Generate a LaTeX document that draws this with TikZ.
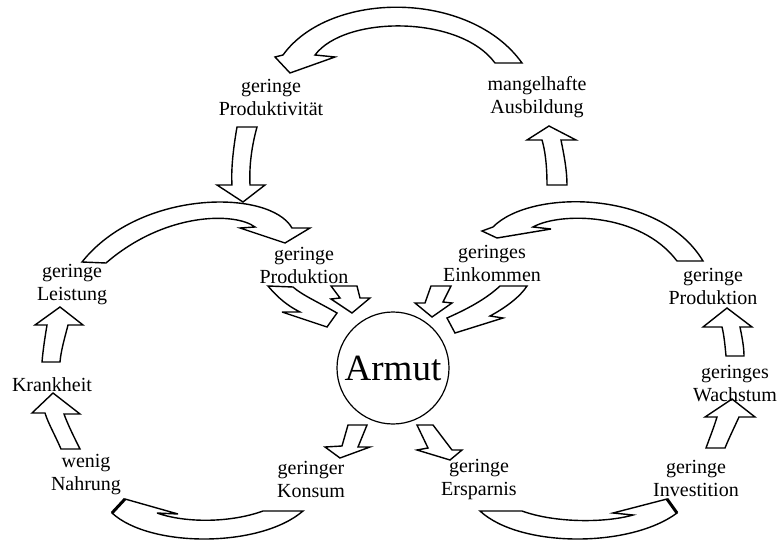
\documentclass[tikz,border=0pt]{standalone}
\usepackage{fontspec}
\setmainfont{Liberation Serif}
\tikzset{
  blk/.style={draw=black, fill=white, line width=1.4pt, line join=miter, miter limit=6},
  thk/.style={draw=black, line width=3pt, line cap=butt},
  lbl/.style={align=center, inner sep=0pt, font=\fontsize{20}{23}\selectfont},
}
\begin{document}
\begin{tikzpicture}[x=1pt,y=-1pt]
\path[use as bounding box, fill=white] (0,0) rectangle (779,540);

% central circle
\node[circle, draw, line width=1.2pt, minimum size=112pt, inner sep=0pt,
      font=\fontsize{37}{42}\selectfont] (armut) at (393,368) {Armut};

% A1 top arc: Ausbildung -> Produktivitaet
\draw[blk] (522,63) .. controls (470,-10) and (330,-10) .. (283,55) -- (275,57) -- (290,73) -- (335,57) -- (315,55)
  .. controls (345,15) and (460,15) .. (495,63) -- cycle;
% A2 down: Produktivitaet -> Produktion
\draw[blk] (237,127) .. controls (233,150) and (231,170) .. (232,185) -- (217,185) -- (243,202) -- (265,185) -- (250,185)
  .. controls (249,165) and (252,145) .. (257,127) -- cycle;
% A3 up: Einkommen -> Ausbildung
\draw[blk] (547,185) .. controls (547,165) and (545,150) .. (542,140) -- (527,140) -- (549,126) -- (576,140) -- (561,140)
  .. controls (564,155) and (567,170) .. (567,185) -- cycle;
% A4 left arc: Leistung -> Produktion
\draw[blk] (82,262) .. controls (140,189) and (270,189) .. (292,228) -- (310,228) -- (285,243) -- (240,228) -- (255,227)
  .. controls (235,212) and (165,212) .. (106,263) -- cycle;
% A5 right arc: Produktion -> Einkommen
\draw[blk] (703,261) .. controls (660,189) and (530,189) .. (493,227) -- (482,231) -- (497,238) -- (551,229) -- (533,227)
  .. controls (560,212) and (640,212) .. (677,261) -- cycle;
% A6 big left into Armut
\draw[blk] (268,286) .. controls (278,298) and (288,306) .. (300,312) -- (282,312) -- (327,327) -- (337,313)
  .. controls (318,302) and (302,295) .. (293,287) -- cycle;
% A7 small left into Armut
\draw[blk] (331,286) -- (340,298) -- (331,299) -- (352,313) -- (370,298) -- (360,298) -- (357,286) -- cycle;
% A8 small right into Armut
\draw[blk] (431,286) -- (425,303) -- (415,303) -- (432,317) -- (452,303) -- (443,302) -- (451,286) -- cycle;
% A9 big right into Armut
\draw[blk] (500,286) .. controls (485,300) and (465,310) .. (447,318) -- (455,333) -- (503,318) -- (490,316)
  .. controls (505,308) and (520,297) .. (527,286) -- cycle;
% A10 Krankheit -> Leistung
\draw[blk] (42,362) .. controls (43,350) and (45,337) .. (47,325) -- (35,325) -- (60,307) -- (83,325) -- (68,325)
  .. controls (65,337) and (61,350) .. (60,362) -- cycle;
% A11 Nahrung -> Krankheit
\draw[blk] (61,449) .. controls (55,435) and (48,423) .. (45,413) -- (32,413) -- (53,393) -- (80,414) -- (64,414)
  .. controls (68,425) and (74,437) .. (80,449) -- cycle;
% A12 Konsum -> Nahrung
\draw[blk] (303,511) .. controls (260,548) and (150,548) .. (112,513) -- (125,499) -- (178,514) -- (157,513)
  .. controls (185,523) and (230,523) .. (263,511) -- cycle;
\draw[thk] (112,513) -- (125,499);
% A13 Ersparnis -> Investition
\draw[blk] (480,511) .. controls (520,548) and (630,548) .. (677,513) -- (667,499) -- (613,513) -- (633,515)
  .. controls (605,523) and (555,523) .. (522,511) -- cycle;
\draw[thk] (677,513) -- (667,499);
% A14 Investition -> Wachstum
\draw[blk] (706,448) .. controls (710,437) and (714,427) .. (717,417) -- (705,417) -- (732,399) -- (755,417) -- (739,417)
  .. controls (734,428) and (729,438) .. (725,448) -- cycle;
% A15 Wachstum -> Produktion
\draw[blk] (726,356) .. controls (725,345) and (724,335) .. (722,327) -- (703,327) -- (727,308) -- (752,327) -- (740,327)
  .. controls (742,337) and (744,347) .. (744,356) -- cycle;
% A16 Armut -> Konsum
\draw[blk] (348,425) -- (342,446) -- (325,447) -- (340,458) -- (370,447) -- (358,447) -- (367,425) -- cycle;
% A17 Armut -> Ersparnis
\draw[blk] (417,425) -- (428,448) -- (417,450) -- (450,460) -- (462,450) -- (452,450) -- (433,425) -- cycle;

% labels
\node[lbl] (prodiv) at (271,97) {geringe\\Produktivität};
\node[lbl] (ausb) at (537,97) {mangelhafte\\Ausbildung};
\node[lbl] (prodL) at (304,265) {geringe\\Produktion};
\node[lbl] (eink) at (492,263) {geringes\\Einkommen};
\node[lbl] (leist) at (72,285) {geringe\\Leistung};
\node[lbl] (prodR) at (713,286) {geringe\\Produktion};
\node[lbl] (krank) at (52,385) {Krankheit};
\node[lbl] (nahr) at (86,475) {wenig\\Nahrung};
\node[lbl] (kons) at (311,479) {geringer\\Konsum};
\node[lbl] (spar) at (479,480) {geringe\\Ersparnis};
\node[lbl] (inv) at (696,478) {geringe\\Investition};
\node[lbl] (wachs) at (735,384) {geringes\\Wachstum};
\end{tikzpicture}
\end{document}
